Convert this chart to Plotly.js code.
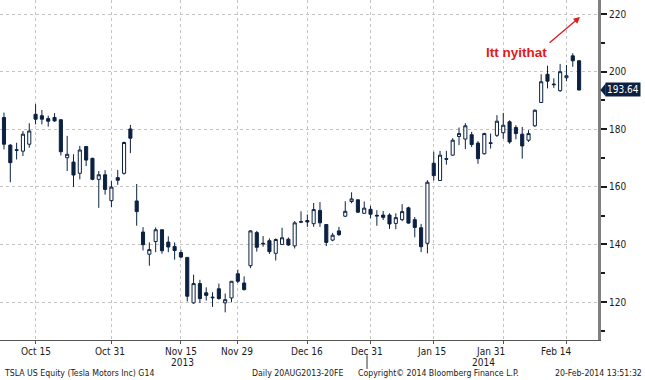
<!DOCTYPE html>
<html>
<head>
<meta charset="utf-8">
<script src="https://cdn.plot.ly/plotly-3.0.1.min.js"></script>
<style>
  html, body { margin: 0; padding: 0; background: #ffffff; }
  #chart { width: 645px; height: 380px; }
</style>
</head>
<body>
<div id="chart"></div>
<script>
// ---- Data ----
const dates = [
  "2013-10-08","2013-10-09","2013-10-10","2013-10-11","2013-10-14","2013-10-15","2013-10-16","2013-10-17","2013-10-18",
  "2013-10-21","2013-10-22","2013-10-23","2013-10-24","2013-10-25","2013-10-28","2013-10-29","2013-10-30","2013-10-31",
  "2013-11-01","2013-11-04","2013-11-05","2013-11-06","2013-11-07","2013-11-08","2013-11-11","2013-11-12","2013-11-13",
  "2013-11-14","2013-11-15","2013-11-18","2013-11-19","2013-11-20","2013-11-21","2013-11-22","2013-11-25","2013-11-26",
  "2013-11-27","2013-11-29","2013-12-02","2013-12-03","2013-12-04","2013-12-05","2013-12-06","2013-12-09","2013-12-10",
  "2013-12-11","2013-12-12","2013-12-13","2013-12-16","2013-12-17","2013-12-18","2013-12-19","2013-12-20","2013-12-23",
  "2013-12-24","2013-12-26","2013-12-27","2013-12-30","2013-12-31","2014-01-02","2014-01-03","2014-01-06","2014-01-07",
  "2014-01-08","2014-01-09","2014-01-10","2014-01-13","2014-01-14","2014-01-15","2014-01-16","2014-01-17","2014-01-21",
  "2014-01-22","2014-01-23","2014-01-24","2014-01-27","2014-01-28","2014-01-29","2014-01-30","2014-01-31","2014-02-03",
  "2014-02-04","2014-02-05","2014-02-06","2014-02-07","2014-02-10","2014-02-11","2014-02-12","2014-02-13","2014-02-14",
  "2014-02-18","2014-02-19"
];
const openVals = [
  184.1,174.5,172.9,172.4,174.8,185.2,184.7,183.7,184.1,
  183.3,170.1,168.6,164.7,174.0,169.9,162.6,164.2,155.2,
  163.2,164.7,180.1,155.1,144.3,136.6,141.0,145.1,140.8,
  139.3,137.2,135.5,119.7,126.4,123.2,121.7,124.6,119.7,
  121.4,129.8,126.6,132.6,144.1,140.4,141.3,136.9,140.0,
  141.8,139.5,147.7,148.3,147.2,151.8,146.9,141.5,144.7,
  149.8,154.9,155.5,150.8,152.2,150.1,150.2,150.2,147.3,
  148.6,152.7,148.6,145.8,140.4,168.2,162.2,169.8,171.0,
  177.5,176.6,178.1,175.2,171.5,175.3,177.9,178.8,182.6,
  180.6,178.3,176.2,181.2,189.3,199.1,195.7,193.4,197.9,
  205.5,203.8
];
const highVals = [
  185.8,174.8,175.3,179.4,182.1,188.7,186.7,184.7,185.6,
  183.5,177.7,171.3,174.2,174.2,170.1,165.5,165.8,162.0,
  165.9,175.7,181.5,161.0,146.0,140.7,145.9,145.1,142.8,
  140.7,138.2,135.5,129.5,127.7,125.1,123.4,126.4,122.9,
  127.2,131.2,128.9,144.9,144.7,142.9,142.1,142.1,145.8,
  142.4,148.1,151.5,150.4,154.4,154.7,146.9,144.0,146.1,
  155.0,158.1,155.6,154.9,153.4,151.9,151.6,150.8,150.8,
  154.0,153.1,149.5,147.1,162.3,172.2,172.5,172.5,176.9,
  180.6,182.1,179.1,175.9,178.8,178.5,184.9,185.7,183.1,
  181.4,180.8,179.7,186.9,199.1,202.1,197.7,202.7,202.3,
  206.4,203.9
];
const lowVals = [
  173.0,161.6,169.5,170.7,173.6,181.7,181.7,180.9,182.6,
  170.9,165.5,160.0,162.6,167.2,162.3,152.7,157.3,152.9,
  160.7,164.2,171.7,146.5,137.9,132.6,137.3,136.8,137.3,
  134.7,135.3,120.2,119.4,119.7,120.5,118.3,120.8,116.4,
  119.9,126.6,124.0,131.8,137.5,139.2,136.7,134.4,140.0,
  139.5,138.6,147.4,146.1,146.1,146.1,139.4,141.1,142.9,
  149.5,154.3,151.0,150.8,149.1,146.5,148.5,145.4,145.3,
  148.1,147.2,142.5,137.3,136.9,162.2,162.2,167.7,170.8,
  174.5,173.1,173.8,168.0,171.2,173.3,177.3,176.7,175.0,
  176.5,169.8,175.6,180.8,189.3,194.2,194.4,193.0,196.7,
  201.7,193.5
];
const closeVals = [
  174.8,168.4,172.7,178.3,179.4,183.5,183.5,182.8,182.9,
  172.2,171.3,164.1,172.8,169.3,162.6,164.2,159.1,159.9,
  162.3,175.4,176.9,151.4,139.9,138.2,145.1,137.8,139.1,
  137.9,135.6,122.0,126.4,121.2,122.3,121.5,121.2,120.8,
  127.2,127.2,124.3,144.7,139.0,140.2,137.5,141.7,142.3,
  139.8,147.5,147.9,147.8,152.1,147.5,140.7,143.2,143.4,
  151.5,155.8,151.2,152.6,150.5,149.9,149.4,147.1,149.3,
  151.4,147.4,145.9,139.2,161.6,163.9,171.0,169.6,176.2,
  178.5,181.2,174.7,169.8,178.5,175.1,182.8,181.4,175.6,
  178.5,174.2,178.5,186.6,196.5,196.7,195.5,200.0,198.6,
  203.8,193.64
];
const tickDates  = ["2013-10-15","2013-10-31","2013-11-15","2013-11-29","2013-12-16","2013-12-31","2014-01-15","2014-01-31","2014-02-14"];
const tickLabels = ["Oct 15","Oct 31","Nov 15","Nov 29","Dec 16","Dec 31","Jan 15","Jan 31","Feb 14"];
const yearDates  = ["2013-11-15","2014-01-31"];
const yearLabels = ["2013","2014"];
const yTicks = [120, 140, 160, 180, 200, 220];
const lastPrice = 193.64;
const noteText = "Itt nyithat";
const footerTexts = ["TSLA US Equity (Tesla Motors Inc) G14", "Daily 20AUG2013-20FE", "Copyright\u00a9 2014 Bloomberg Finance L.P.", "20-Feb-2014 13:51:32"];

// ---- Styles ----
const NAVY = "#0c2142";
const RED = "#e3191c";
const FONT = "DejaVu Sans Condensed, DejaVu Sans, sans-serif";
const labelShift = [0, -1, 0, -1, 0, -4, -2, -13, -10];   // px offsets of date labels (Bloomberg layout)
const yearShift = [2, -20];
const footerPos = [2, 250, 356, 644];                       // px positions of footer texts

const trace = {
  type: "candlestick",
  x: dates, open: openVals, high: highVals, low: lowVals, close: closeVals,
  increasing: { line: { color: NAVY, width: 1 }, fillcolor: "#ffffff" },
  decreasing: { line: { color: NAVY, width: 1 }, fillcolor: NAVY },
  whiskerwidth: 0,
  hoverinfo: "skip",
  showlegend: false
};

const PLOT_W = 598;
const annotations = [];
tickDates.forEach((d, i) => annotations.push({
  xref: "x", yref: "paper", x: d, y: 0, xanchor: "center", yanchor: "top",
  xshift: labelShift[i], yshift: -4, text: tickLabels[i], showarrow: false,
  font: { family: FONT, size: 10, color: "#1a1a1a" }
}));
yearDates.forEach((d, i) => annotations.push({
  xref: "x", yref: "paper", x: d, y: 0, xanchor: "center", yanchor: "top",
  xshift: yearShift[i], yshift: -15, text: yearLabels[i], showarrow: false,
  font: { family: FONT, size: 10, color: "#1a1a1a" }
}));
annotations.push(
  { xref: "paper", yref: "y", x: 1, y: lastPrice, xanchor: "left", yanchor: "middle", xshift: 7,
    text: lastPrice.toFixed(2), showarrow: false, bgcolor: NAVY, borderpad: 1,
    font: { family: FONT, size: 10, color: "#ffffff" } },
  { xref: "paper", yref: "y", x: 516 / PLOT_W, y: 206.8, xanchor: "center", yanchor: "middle",
    text: "<b>" + noteText + "</b>", showarrow: false,
    font: { family: "Liberation Sans, Arial, sans-serif", size: 13.5, color: RED } },
  { xref: "paper", yref: "y", x: 0.970, y: 219.0, ax: -32, ay: 27, text: "", showarrow: true,
    arrowhead: 2, arrowsize: 1, arrowwidth: 1.3, arrowcolor: RED }
);
footerTexts.forEach((t, i) => annotations.push({
  xref: "paper", yref: "paper", x: footerPos[i] / PLOT_W, y: 0, yshift: -33,
  xanchor: i === footerTexts.length - 1 ? "right" : "left", yanchor: "middle",
  text: t, showarrow: false, font: { family: FONT, size: 8.7, color: "#1a1a1a" }
}));

const layout = {
  width: 645, height: 380,
  margin: { l: 0, r: 47, t: 0, b: 40 },
  paper_bgcolor: "#ffffff", plot_bgcolor: "#ffffff",
  showlegend: false,
  xaxis: {
    type: "category",
    range: [-0.63, 93.99],
    rangeslider: { visible: false },
    tickvals: tickDates, showticklabels: false,
    showgrid: true, gridcolor: "#c4c4c4", griddash: "dot", gridwidth: 1,
    showline: true, linecolor: "#555555", linewidth: 1,
    ticks: "outside", ticklen: 3, tickcolor: "#555555",
    zeroline: false, fixedrange: true
  },
  yaxis: {
    side: "right",
    range: [106.8, 224.9],
    tickvals: yTicks,
    showgrid: true, gridcolor: "#c4c4c4", griddash: "dot", gridwidth: 1,
    showline: true, linecolor: "#808080", linewidth: 3,
    ticks: "outside", ticklen: 6, tickwidth: 2, tickcolor: "#1a1a1a",
    minor: { dtick: 10, ticks: "outside", ticklen: 4, tickcolor: "#1a1a1a", showgrid: false },
    tickfont: { family: FONT, size: 10, color: "#1a1a1a" },
    zeroline: false, fixedrange: true
  },
  shapes: [
    { type: "path", xref: "paper", yref: "y", layer: "above",
      path: "M 1.004 " + lastPrice + " L 1.013 " + (lastPrice + 2.3) + " L 1.013 " + (lastPrice - 2.3) + " Z",
      fillcolor: NAVY, line: { width: 0 } },
    { type: "line", xref: "paper", yref: "paper", x0: 367 / PLOT_W, x1: 367 / PLOT_W, y0: -0.045, y1: -0.085,
      line: { color: "#333333", width: 1 } }
  ],
  annotations: annotations
};

Plotly.newPlot("chart", [trace], layout, { staticPlot: true, displayModeBar: false });
</script>
</body>
</html>
